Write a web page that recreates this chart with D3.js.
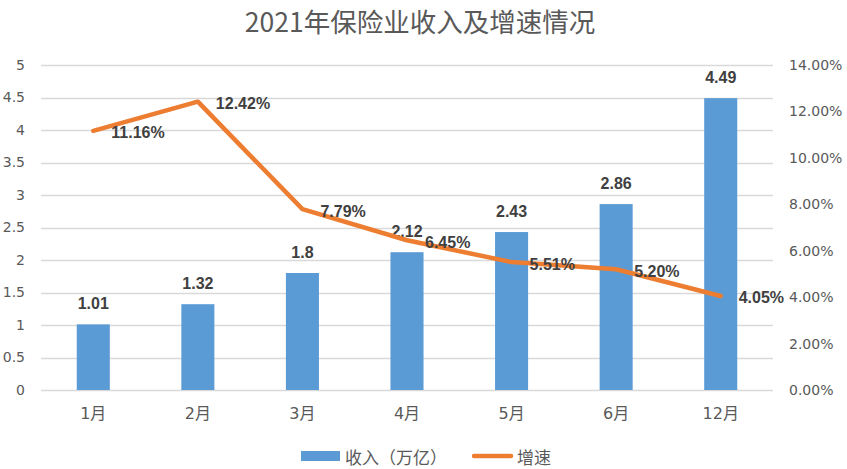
<!DOCTYPE html>
<html>
<head>
<meta charset="utf-8">
<script src="https://cdn.jsdelivr.net/npm/d3@7"></script>
<style>
  body { margin: 0; background: #fff; }
  svg { display: block; }
</style>
</head>
<body>
<svg id="chart" width="847" height="469"></svg>
<script>
// chart data
const months = ["1月", "2月", "3月", "4月", "5月", "6月", "12月"];
const income = [1.01, 1.32, 1.8, 2.12, 2.43, 2.86, 4.49];      // 万亿
const growth = [11.16, 12.42, 7.79, 6.45, 5.51, 5.20, 4.05];   // %
const leftTicks = [0, 0.5, 1, 1.5, 2, 2.5, 3, 3.5, 4, 4.5, 5];
const rightTicks = [0, 2, 4, 6, 8, 10, 12, 14];
const titleText = "2021年保险业收入及增速情况";
const legendNames = ["收入（万亿）", "增速"];

const width = 847, height = 469;
const plot = {left: 41, right: 773, top: 65, bottom: 390};

const barColor = "#5B9BD5";
const lineColor = "#ED7D31";
const gridColor = "#D9D9D9";
const axisText = "#595959";
const labelText = "#404040";
const tickFont = "'DejaVu Sans', sans-serif";
const cjkFont = "'DejaVu Sans', 'Noto Sans CJK SC', sans-serif";
const boldFont = "'Liberation Sans', Arial, sans-serif";

const svg = d3.select("#chart");

const x = d3.scaleBand()
    .domain(months)
    .range([plot.left, plot.right])
    .paddingInner(0.684)
    .paddingOuter(0.342);
const yL = d3.scaleLinear().domain([0, 5]).range([plot.bottom, plot.top]);
const yR = d3.scaleLinear().domain([0, 14]).range([plot.bottom, plot.top]);
const cx = d => x(d) + x.bandwidth() / 2;

// title
svg.append("text")
    .attr("x", 420)
    .attr("y", 20)
    .attr("text-anchor", "middle")
    .attr("dominant-baseline", "central")
    .attr("font-family", "'Noto Sans CJK SC', sans-serif")
    .attr("font-size", 26.5)
    .attr("fill", axisText)
    .text(titleText);

// gridlines
svg.append("g")
  .selectAll("line")
  .data(leftTicks)
  .join("line")
    .attr("x1", plot.left)
    .attr("x2", plot.right)
    .attr("y1", d => Math.round(yL(d)) + 0.5)
    .attr("y2", d => Math.round(yL(d)) + 0.5)
    .attr("stroke", gridColor)
    .attr("stroke-width", 1.3);

// left axis
const leftAxis = svg.append("g")
    .attr("transform", `translate(${plot.left},0)`)
    .call(d3.axisLeft(yL).tickValues(leftTicks).tickFormat(d3.format("")).tickSize(0).tickPadding(16));
leftAxis.select(".domain").remove();
leftAxis.selectAll("text")
    .attr("font-family", tickFont)
    .attr("font-size", 14)
    .attr("fill", axisText);

// right axis
const rightAxis = svg.append("g")
    .attr("transform", `translate(${plot.right},0)`)
    .call(d3.axisRight(yR).tickValues(rightTicks).tickFormat(d => d.toFixed(2) + "%").tickSize(0).tickPadding(16));
rightAxis.select(".domain").remove();
rightAxis.selectAll("text")
    .attr("font-family", tickFont)
    .attr("font-size", 14)
    .attr("fill", axisText);

// bottom axis
const bottomAxis = svg.append("g")
    .attr("transform", `translate(0,${plot.bottom})`)
    .call(d3.axisBottom(x).tickSize(0).tickPadding(18));
bottomAxis.select(".domain").remove();
bottomAxis.selectAll("text")
    .attr("font-family", cjkFont)
    .attr("font-size", 16)
    .attr("fill", axisText);

// bars
svg.append("g")
  .selectAll("rect")
  .data(income)
  .join("rect")
    .attr("x", (d, i) => x(months[i]))
    .attr("y", d => yL(d))
    .attr("width", x.bandwidth())
    .attr("height", d => yL(0) - yL(d))
    .attr("fill", barColor);

// bar labels
svg.append("g")
  .selectAll("text")
  .data(income)
  .join("text")
    .attr("x", (d, i) => cx(months[i]))
    .attr("y", d => yL(d) - 15)
    .attr("text-anchor", "middle")
    .attr("font-family", boldFont)
    .attr("font-weight", "bold")
    .attr("font-size", 16)
    .attr("fill", labelText)
    .text(d => d);

// growth line
const line = d3.line()
    .x((d, i) => cx(months[i]))
    .y(d => yR(d));
svg.append("path")
    .datum(growth)
    .attr("d", line)
    .attr("fill", "none")
    .attr("stroke", lineColor)
    .attr("stroke-width", 4.5)
    .attr("stroke-linejoin", "round")
    .attr("stroke-linecap", "round");

// line labels
svg.append("g")
  .selectAll("text")
  .data(growth)
  .join("text")
    .attr("x", (d, i) => cx(months[i]) + 18)
    .attr("y", d => yR(d) + 2)
    .attr("dominant-baseline", "central")
    .attr("font-family", boldFont)
    .attr("font-weight", "bold")
    .attr("font-size", 16)
    .attr("fill", labelText)
    .text(d => d.toFixed(2) + "%");

// legend
const legend = svg.append("g");
legend.append("rect")
    .attr("x", 301).attr("y", 451)
    .attr("width", 39).attr("height", 10)
    .attr("fill", barColor);
legend.append("text")
    .attr("x", 345).attr("y", 456)
    .attr("dominant-baseline", "central")
    .attr("font-family", "'Noto Sans CJK SC', sans-serif")
    .attr("font-size", 17)
    .attr("fill", axisText)
    .text(legendNames[0]);
legend.append("line")
    .attr("x1", 474).attr("x2", 511)
    .attr("y1", 456).attr("y2", 456)
    .attr("stroke", lineColor)
    .attr("stroke-width", 4.5)
    .attr("stroke-linecap", "round");
legend.append("text")
    .attr("x", 517).attr("y", 456)
    .attr("dominant-baseline", "central")
    .attr("font-family", "'Noto Sans CJK SC', sans-serif")
    .attr("font-size", 17)
    .attr("fill", axisText)
    .text(legendNames[1]);
</script>
</body>
</html>
